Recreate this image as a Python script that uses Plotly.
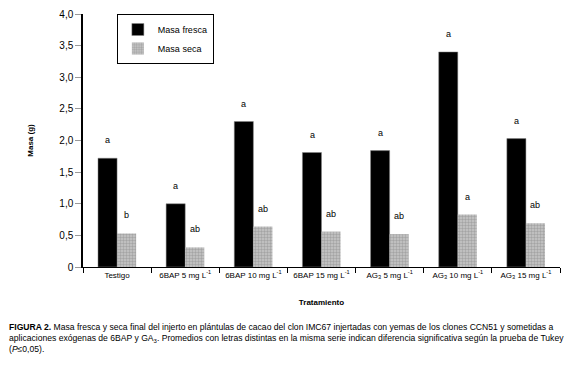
import plotly.graph_objects as go

categories = ["Testigo", "6BAP 5 mg L<sup>-1</sup>", "6BAP 10 mg L<sup>-1</sup>", "6BAP 15 mg L<sup>-1</sup>",
              "AG<sub>3</sub> 5 mg L<sup>-1</sup>", "AG<sub>3</sub> 10 mg L<sup>-1</sup>", "AG<sub>3</sub> 15 mg L<sup>-1</sup>"]
masa_fresca = [1.72, 1.00, 2.30, 1.81, 1.84, 3.40, 2.03]
masa_seca = [0.53, 0.31, 0.64, 0.56, 0.52, 0.83, 0.69]
letras_fresca = ["a", "a", "a", "a", "a", "a", "a"]
letras_seca = ["b", "ab", "ab", "ab", "ab", "a", "ab"]
ytick_vals = [0, 0.5, 1.0, 1.5, 2.0, 2.5, 3.0, 3.5, 4.0]
ytick_text = ["0", "0,5", "1,0", "1,5", "2,0", "2,5", "3,0", "3,5", "4,0"]

FONT = "Liberation Sans, Arial, sans-serif"

fig = go.Figure()
fig.add_trace(go.Bar(x=categories, y=masa_fresca, name="Masa fresca",
                     marker=dict(color="#000000", line=dict(color="#888888", width=0.5))))
fig.add_trace(go.Bar(x=categories, y=masa_seca, name="Masa seca",
                     marker=dict(color="#c8c8c8", line=dict(color="#c8c8c8", width=0),
                                 pattern=dict(shape=".", fgcolor="#808080", bgcolor="#c8c8c8",
                                              size=3, solidity=0.5))))

annotations = []
for c, v, t in zip(categories, masa_fresca, letras_fresca):
    annotations.append(dict(x=c, y=v, text=t, xref="x", yref="y", showarrow=False,
                            xshift=-9.5, yshift=11, yanchor="bottom",
                            font=dict(size=9, color="#000", family=FONT)))
for c, v, t in zip(categories, masa_seca, letras_seca):
    annotations.append(dict(x=c, y=v, text=t, xref="x", yref="y", showarrow=False,
                            xshift=9.5, yshift=11, yanchor="bottom",
                            font=dict(size=9, color="#000", family=FONT)))

caption = ("<b>FIGURA 2.</b> Masa fresca y seca final del injerto en plántulas de cacao del clon IMC67 injertadas con yemas de los clones CCN51 y sometidas a<br>"
           "aplicaciones exógenas de 6BAP y GA<sub>3</sub>. Promedios con letras distintas en la misma serie indican diferencia significativa según la prueba de Tukey<br>"
           "(<i>P</i>≤0,05).")
annotations.append(dict(x=0, y=0, xref="paper", yref="paper", text=caption, showarrow=False,
                        xanchor="left", yanchor="top", align="left", yshift=-53,
                        xshift=-76,
                        font=dict(size=8.6, color="#000", family=FONT)))

# page body has an 8px margin; figure is sized/offset to compensate
fig.update_layout(
    width=572, height=359,
    margin=dict(l=75, r=20, t=6, b=100, autoexpand=False),
    paper_bgcolor="white", plot_bgcolor="white",
    barmode="group", bargap=0.44, bargroupgap=0,
    font=dict(family=FONT, size=9, color="#000"),
    showlegend=True,
    legend=dict(x=0.071, y=1.0, xanchor="left", yanchor="top",
                bordercolor="#000", borderwidth=1, bgcolor="white",
                font=dict(size=9, family=FONT), tracegroupgap=2, itemwidth=30),
    annotations=annotations,
)
fig.update_xaxes(showline=True, linecolor="#000", linewidth=1, ticks="outside",
                 tickson="boundaries", ticklen=5, tickcolor="#000", tickangle=0,
                 automargin=False, ticklabeloverflow="allow",
                 title=dict(text="<b>Tratamiento</b>", font=dict(size=8), standoff=20),
                 tickfont=dict(size=8))
fig.update_yaxes(range=[0, 4.0], showline=True, linecolor="#000", linewidth=1.5,
                 tickvals=ytick_vals, ticktext=ytick_text, ticks="outside", ticklen=6,
                 tickcolor="#999", showgrid=False, zeroline=False, automargin=False,
                 ticklabeloverflow="allow",
                 title=dict(text="<b>Masa (g)</b>", font=dict(size=8), standoff=25),
                 tickfont=dict(size=10))

fig.write_html("out.html")
